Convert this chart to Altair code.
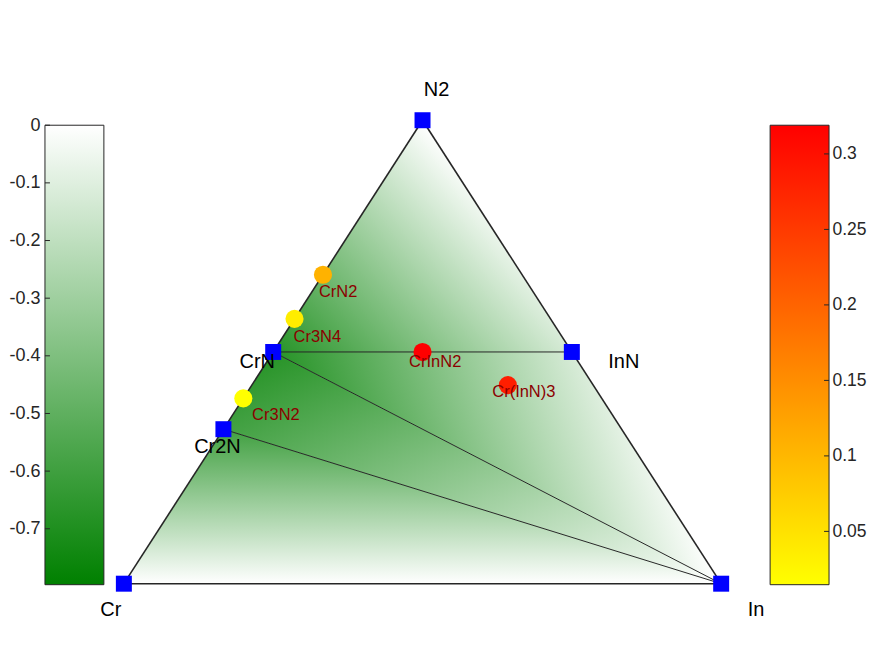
import altair as alt
import numpy as np
import pandas as pd

# ---------------- data ----------------
stable_names = ["Cr", "In", "N2", "CrN", "Cr2N", "InN"]
stable_cr = [1.0, 0.0, 0.0, 1 / 2, 2 / 3, 0.0]
stable_in = [0.0, 1.0, 0.0, 0.0, 0.0, 1 / 2]
stable_n = [0.0, 0.0, 1.0, 1 / 2, 1 / 3, 1 / 2]
stable_energy = [0.0, 0.0, 0.0, -0.797, -0.70, -0.15]

unstable_names = ["CrN2", "Cr3N4", "Cr3N2", "CrInN2", "Cr(InN)3"]
unstable_cr = [1 / 3, 3 / 7, 3 / 5, 1 / 4, 1 / 7]
unstable_in = [0.0, 0.0, 0.0, 1 / 4, 3 / 7]
unstable_n = [2 / 3, 4 / 7, 2 / 5, 1 / 2, 3 / 7]
unstable_ehull = [0.14, 0.045, 0.0147, 0.319, 0.31]

hull_facets = [("Cr", "Cr2N", "In"), ("Cr2N", "CrN", "In"),
               ("CrN", "InN", "In"), ("CrN", "N2", "InN")]
boundary_edges = [("Cr", "N2"), ("N2", "In"), ("In", "Cr")]
tie_lines = [("Cr2N", "In"), ("CrN", "In"), ("CrN", "InN")]

energy_ticks = [0, -0.1, -0.2, -0.3, -0.4, -0.5, -0.6, -0.7]
ehull_ticks = [0.05, 0.1, 0.15, 0.2, 0.25, 0.3]

# ---------------- layout / style ----------------
FONT = "Liberation Sans"
H = 620
BAR_W = 59
TERN_W = 657
GAP = 5
TERN_X0, TERN_X1 = 15, 613      # px of x=0 / x=1 inside ternary panel
TERN_Y1, TERN_Y0 = 112, 576     # px of N=1 / N=0 from panel top
BAR_TOP, BAR_BOT = 117, 577     # px of colourbar ends from panel top
FACET_OPACITY = 0.85

vertex_label_offsets = {"N2": (14, -30), "Cr": (-13, 26), "In": (35, 26),
                        "InN": (52, 10.5), "CrN": (-16, 10.5), "Cr2N": (-6, 18)}
compound_label_offsets = {"CrN2": (15.2, 17.3), "Cr3N4": (22.8, 18), "Cr3N2": (32.6, 17),
                          "CrInN2": (12.7, 10.5), "Cr(InN)3": (16, 6.5)}


def lin_domain(v_a, p_a, v_b, p_b, size, inverted):
    """domain such that value v_a sits at pixel p_a and v_b at p_b"""
    k = (p_b - p_a) / (v_b - v_a)
    if inverted:
        k = -k
        dmax = v_a + p_a / k
        return [dmax - size / k, dmax]
    dmin = v_a - p_a / k
    return [dmin, dmin + size / k]


e_min = min(stable_energy)
h_min, h_max = min(unstable_ehull), max(unstable_ehull)


def green(e):
    s = e / e_min
    r = round(255 * (1 - s))
    g = round(255 - 127 * s)
    return "#%02x%02x%02x" % (r, g, r)


def tern_xy(fin, fn):
    return fin + fn / 2, fn


stable = pd.DataFrame({"name": stable_names, "cr": stable_cr, "in_": stable_in,
                       "n": stable_n, "E": stable_energy})
stable["x"], stable["y"] = tern_xy(stable["in_"], stable["n"])
pos = {r.name: (r.x, r.y, r.E) for r in stable.itertuples()}

unstable = pd.DataFrame({"name": unstable_names, "cr": unstable_cr, "in_": unstable_in,
                         "n": unstable_n, "ehull": unstable_ehull})
unstable["x"], unstable["y"] = tern_xy(unstable["in_"], unstable["n"])

xdom = [-TERN_X0 / (TERN_X1 - TERN_X0), (TERN_W - TERN_X0) / (TERN_X1 - TERN_X0)]
ydom = lin_domain(1.0, TERN_Y1, 0.0, TERN_Y0, H, inverted=True)
xs = alt.Scale(domain=xdom, nice=False, zero=False)
ys = alt.Scale(domain=ydom, nice=False, zero=False)

layers = []
# hull facets with planar colour gradients
for fac in hull_facets:
    pts = sorted([pos[n] for n in fac], key=lambda p: p[0])
    (xa, ya, ea), (xb, yb, eb), (xc, yc, ec) = pts
    y_ac = ya + (yc - ya) * (xb - xa) / (xc - xa)
    df = pd.DataFrame({"x": [xa, xb, xc], "y": [ya, yb, yc], "y2": [ya, y_ac, yc]})
    A = np.array([[p[0], p[1], 1.0] for p in pts])
    a, b, c = np.linalg.solve(A, np.array([p[2] for p in pts]))
    xmin, xmax = xa, xc
    ymin, ymax = min(p[1] for p in pts), max(p[1] for p in pts)
    dx, dy = xmax - xmin, ymax - ymin
    al, be = a * dx, -b * dy
    pmax = max(pts, key=lambda p: p[2])
    emax, emn = pmax[2], min(p[2] for p in pts)
    u1, v1 = (pmax[0] - xmin) / dx, (ymax - pmax[1]) / dy
    k = (emn - emax) / (al * al + be * be)
    u2, v2 = u1 + k * al, v1 + k * be
    grad = alt.Gradient(gradient="linear", x1=u1, y1=v1, x2=u2, y2=v2,
                        stops=[alt.GradientStop(offset=0, color=green(emax)),
                               alt.GradientStop(offset=1, color=green(emn))])
    layers.append(alt.Chart(df).mark_area(orient="vertical", fill=grad,
                                          fillOpacity=FACET_OPACITY).encode(
        x=alt.X("x:Q", scale=xs, axis=None),
        y=alt.Y("y:Q", scale=ys, axis=None),
        y2="y2:Q"))


def seg_df(pairs):
    return pd.DataFrame({"x": [pos[a][0] for a, b in pairs], "y": [pos[a][1] for a, b in pairs],
                         "x2": [pos[b][0] for a, b in pairs], "y2": [pos[b][1] for a, b in pairs]})


for pairs, w, col in [(tie_lines, 1.0, "#262626"), (boundary_edges, 1.6, "#262626")]:
    layers.append(alt.Chart(seg_df(pairs)).mark_rule(strokeWidth=w, color=col).encode(
        x=alt.X("x:Q", scale=xs, axis=None), y=alt.Y("y:Q", scale=ys, axis=None),
        x2="x2:Q", y2="y2:Q"))

layers.append(alt.Chart(stable).mark_square(size=256, color="#0000ff", opacity=1).encode(
    x=alt.X("x:Q", scale=xs, axis=None), y=alt.Y("y:Q", scale=ys, axis=None)))

layers.append(alt.Chart(unstable).mark_circle(size=330, opacity=1).encode(
    x=alt.X("x:Q", scale=xs, axis=None), y=alt.Y("y:Q", scale=ys, axis=None),
    color=alt.Color("ehull:Q", scale=alt.Scale(domain=[h_min, h_max],
                                               range=["#ffff00", "#ff0000"]), legend=None)))

for name, (ddx, ddy) in vertex_label_offsets.items():
    layers.append(alt.Chart(stable[stable["name"] == name]).mark_text(
        dx=ddx, dy=ddy, fontSize=20, font=FONT, color="#000000",
        align="center", baseline="middle").encode(
        x=alt.X("x:Q", scale=xs, axis=None), y=alt.Y("y:Q", scale=ys, axis=None), text="name:N"))

for name, (ddx, ddy) in compound_label_offsets.items():
    layers.append(alt.Chart(unstable[unstable["name"] == name]).mark_text(
        dx=ddx, dy=ddy, fontSize=16.5, font=FONT, color="#8b0000",
        align="center", baseline="middle").encode(
        x=alt.X("x:Q", scale=xs, axis=None), y=alt.Y("y:Q", scale=ys, axis=None), text="name:N"))

ternary = alt.layer(*layers).properties(width=TERN_W, height=H)

# ---------------- colour bars ----------------
def colourbar(vtop, vbot, ctop, cbot, ticks, orient):
    dom = lin_domain(vtop, BAR_TOP, vbot, BAR_BOT, H, inverted=True)
    bs = alt.Scale(domain=dom, nice=False, zero=False)
    bx = alt.Scale(domain=[0, 1], nice=False, zero=False)
    grad = alt.Gradient(gradient="linear", x1=0, y1=0, x2=0, y2=1,
                        stops=[alt.GradientStop(offset=0, color=ctop),
                               alt.GradientStop(offset=1, color=cbot)])
    yaxis = alt.Axis(orient=orient, values=ticks, ticks=False, domain=False, grid=False,
                     labelFontSize=18 if orient == "left" else 17.5,
                     labelFont=FONT, labelColor="#262626",
                     labelPadding=5 if orient == "left" else 3,
                     labelExpr="datum.value + ''", title=None)
    tdf = pd.DataFrame({"v": ticks})
    if orient == "left":
        tx, tx2 = alt.value(0), alt.value(5)
    else:
        tx, tx2 = alt.value(BAR_W - 5), alt.value(BAR_W)
    bar = alt.Chart(pd.DataFrame({"x": [0], "x2": [1], "y": [vbot], "y2": [vtop]})).mark_rect(
        fill=grad, stroke="#262626", strokeWidth=1).encode(
        x=alt.X("x:Q", scale=bx, axis=None), x2="x2:Q",
        y=alt.Y("y:Q", scale=bs, axis=yaxis), y2="y2:Q")
    tk = alt.Chart(tdf).mark_rule(color="#262626", strokeWidth=1).encode(
        x=tx, x2=tx2, y=alt.Y("v:Q", scale=bs, axis=yaxis))
    return alt.layer(bar, tk).properties(width=BAR_W, height=H)


left_bar = colourbar(0.0, e_min, green(0.0), green(e_min), energy_ticks, "left")
right_bar = colourbar(h_max, h_min, "#ff0000", "#ffff00", ehull_ticks, "right")

chart = alt.hconcat(left_bar, ternary, right_bar, spacing=GAP, bounds="flush").resolve_scale(
    x="independent", y="independent", color="independent"
).properties(padding=0, background="white").configure_view(stroke=None)

chart.save("out.html", embed_options={"renderer": "svg", "actions": False})
